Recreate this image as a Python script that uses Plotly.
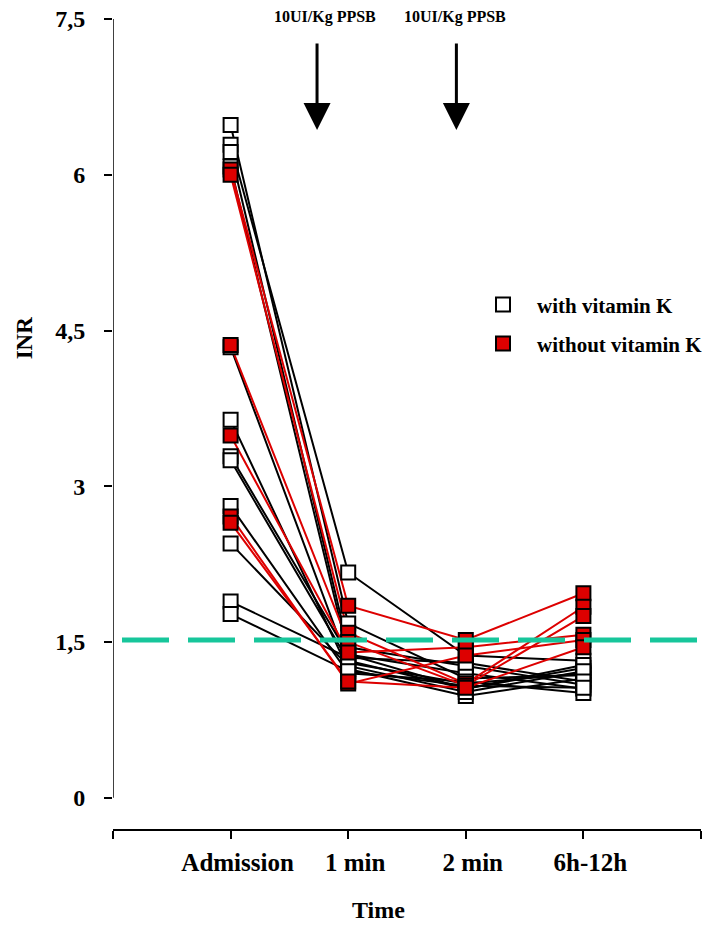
import plotly.graph_objects as go

time_labels = ["Admission", "1 min", "2 min", "6h-12h"]
time_pos = [1, 2, 3, 4]

# INR per patient, with vitamin K (white markers)
with_vitk = [
    [6.48, 1.68, 1.15, 1.18],
    [6.29, 2.17, 1.37, 1.32],
    [6.22, 1.45, 1.27, 1.09],
    [6.08, 1.38, 1.05, 1.25],
    [4.34, 1.30, 1.10, 1.20],
    [3.64, 1.24, 0.98, 1.15],
    [3.29, 1.38, 1.20, 1.05],
    [3.25, 1.32, 1.05, 1.28],
    [2.81, 1.20, 1.12, 1.01],
    [2.45, 1.27, 1.02, 1.22],
    [1.89, 1.35, 1.30, 1.12],
    [1.77, 1.22, 1.08, 1.06],
]
# INR per patient, without vitamin K (red markers)
without_vitk = [
    [6.05, 1.85, 1.52, 1.97],
    [6.00, 1.59, 1.10, 1.84],
    [4.36, 1.50, 1.08, 1.75],
    [3.49, 1.40, 1.45, 1.57],
    [2.71, 1.10, 1.37, 1.52],
    [2.65, 1.12, 1.06, 1.45],
]
threshold = 1.52
y_ticks = [0, 1.5, 3, 4.5, 6, 7.5]
y_ticktext = ["0", "1,5", "3", "4,5", "6", "7,5"]
arrow_labels = ["10UI/Kg PPSB", "10UI/Kg PPSB"]
arrow_x = [1.735, 2.92]
text_x = [1.80, 2.91]

RED = "#dd0000"
FONT = "Liberation Serif"

fig = go.Figure()

for p in with_vitk:
    fig.add_trace(go.Scatter(x=time_pos, y=p, mode="lines",
                             line=dict(color="black", width=2),
                             showlegend=False, hoverinfo="skip"))
for p in without_vitk:
    fig.add_trace(go.Scatter(x=time_pos, y=p, mode="lines",
                             line=dict(color=RED, width=2),
                             showlegend=False, hoverinfo="skip"))

fig.add_trace(go.Scatter(
    x=[t for p in with_vitk for t in time_pos],
    y=[v for p in with_vitk for v in p],
    mode="markers", name="with vitamin K", legend="legend",
    marker=dict(symbol="square", size=14, color="white",
                line=dict(color="black", width=2))))
fig.add_trace(go.Scatter(
    x=[t for p in without_vitk for t in time_pos],
    y=[v for p in without_vitk for v in p],
    mode="markers", name="without vitamin K", legend="legend2",
    marker=dict(symbol="square", size=14, color=RED,
                line=dict(color="black", width=2))))

# threshold dashed line
fig.add_shape(type="line", xref="paper", yref="y", x0=0.0153, x1=1.0,
              y0=threshold, y1=threshold,
              line=dict(color="#17c69b", width=5, dash="47px,19px"))
# y axis line (from 0 to 7.5 only)
fig.add_shape(type="line", xref="x", yref="y", x0=0, x1=0, y0=0, y1=7.5,
              line=dict(color="black", width=1.5))

for ax_, tx_, lab in zip(arrow_x, text_x, arrow_labels):
    fig.add_annotation(x=ax_, y=6.431, ax=ax_, ay=7.278, xref="x", yref="y",
                       axref="x", ayref="y", text="", showarrow=True,
                       arrowhead=2, arrowwidth=3, arrowsize=1.8,
                       arrowcolor="black", standoff=0)
    fig.add_annotation(x=tx_, y=1.0025, xref="x", yref="paper", text=lab,
                       showarrow=False, yanchor="middle",
                       font=dict(family=FONT, size=16, color="black", weight="bold"))

# axis titles
fig.add_annotation(x=0.4507, y=-0.100, xref="paper", yref="paper", text="Time",
                   showarrow=False, xanchor="center", yanchor="middle",
                   font=dict(family=FONT, size=24, color="black", weight="bold"))
fig.add_annotation(x=-0.151, y=0.606, xref="paper", yref="paper", text="INR",
                   showarrow=False, xanchor="center", yanchor="middle",
                   textangle=-90, font=dict(family=FONT, size=23, color="black", weight="bold"))

legend_common = dict(xanchor="left", yanchor="middle", bgcolor="rgba(0,0,0,0)",
                     borderwidth=0, itemwidth=58,
                     font=dict(family=FONT, size=21, color="black", weight="bold"))
fig.update_layout(
    width=702, height=926, autosize=False,
    margin=dict(l=113, r=1, t=19, b=97, autoexpand=False),
    paper_bgcolor="white", plot_bgcolor="white",
    legend=dict(x=0.6054, y=0.647, **legend_common),
    legend2=dict(x=0.6054, y=0.599, **legend_common),
    xaxis=dict(range=[0, 5], tickvals=[0, 1, 2, 3, 4, 5],
               ticktext=[""] + time_labels + [""],
               showline=True, linecolor="black", linewidth=1.5,
               ticks="outside", ticklen=8, tickwidth=1.5, tickcolor="black",
               showgrid=False, zeroline=False, ticklabelstandoff=2,
               ticklabelshift=7,
               tickfont=dict(family=FONT, size=25, color="black", weight="bold")),
    yaxis=dict(range=[-0.3, 7.5], tickvals=y_ticks, ticktext=y_ticktext,
               showline=False, ticks="outside", ticklen=8, tickwidth=1.5,
               tickcolor="black", showgrid=False, zeroline=False,
               ticklabelstandoff=14,
               tickfont=dict(family=FONT, size=24, color="black", weight="bold")),
)

fig.write_html(
    "out.html",
    config={"displayModeBar": False, "responsive": False},
    post_script=(
        "document.body.style.margin='0';"
        "document.body.style.overflow='hidden';"
    ),
)
